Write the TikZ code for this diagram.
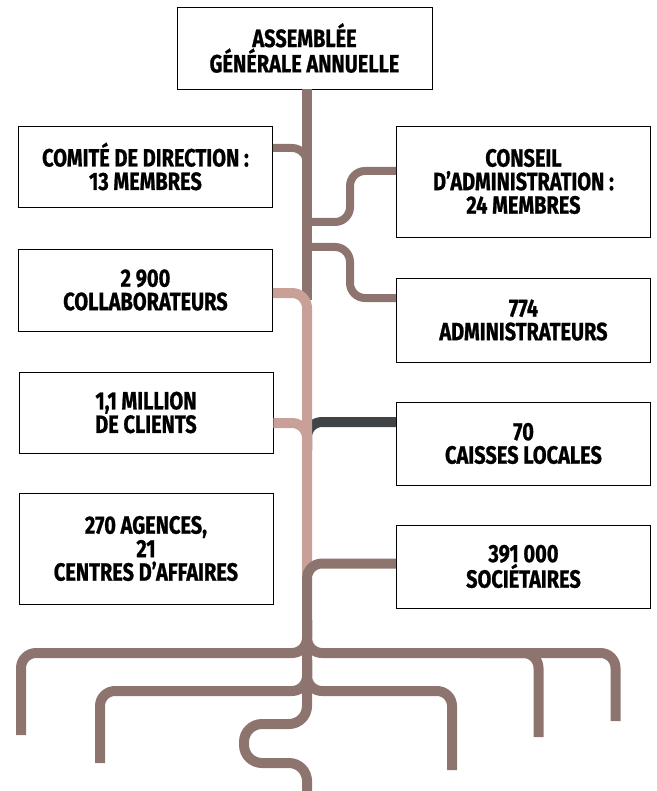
\documentclass[tikz,border=0pt]{standalone}
\usepackage{fontspec}
\newfontfamily\labfont{Fira Sans}[FakeStretch=0.8, BoldFeatures={FakeBold=0.8}]
\definecolor{brn}{HTML}{8E746E}
\definecolor{pnk}{HTML}{C8A098}
\definecolor{drk}{HTML}{404447}
\tikzset{
  box/.style={draw=black, line width=0.9pt, fill=white, align=center,
    font=\labfont\bfseries\fontsize{25}{23.5}\selectfont, inner sep=0pt,
    minimum width=254pt},
  lnk/.style={line width=10pt, draw=brn, rounded corners=15pt},
  thin/.style={line width=8pt},
}
\begin{document}
\begin{tikzpicture}[x=1pt,y=-1pt]
\useasboundingbox (0,0) rectangle (656,791);
% boxes
\node[box, minimum width=255pt, minimum height=82pt] (top) at (304.5,48) {ASSEMBLÉE\\GÉNÉRALE ANNUELLE};
\node[box, minimum height=81pt] (comite) at (145.5,166.5) {COMITÉ DE DIRECTION :\\13 MEMBRES};
\node[box, minimum height=82pt] (collab) at (145.5,290) {2 900\\COLLABORATEURS};
\node[box, minimum height=81pt] (clients) at (146,412.5) {1,1 MILLION\\DE CLIENTS};
\node[box, minimum height=111pt] (agences) at (146,548.5) {270 AGENCES,\\21\\CENTRES D’AFFAIRES};
\node[box, minimum height=111pt] (conseil) at (523.5,181.5) {CONSEIL\\D’ADMINISTRATION :\\24 MEMBRES};
\node[box, minimum height=84pt] (admin) at (523.5,320) {774\\ADMINISTRATEURS};
\node[box, minimum height=83pt] (caisses) at (523.5,443.5) {70\\CAISSES LOCALES};
\node[box, minimum height=83pt] (societ) at (523.5,566.5) {391 000\\SOCIÉTAIRES};
% trunk top (brown)
\draw[lnk] (top.south -| 307,0) -- (307,300);
\draw[lnk, thin] (comite.east |- 0,148) -- (307,148) -- (307,185);
\draw[lnk, thin] (conseil.west |- 0,171) -- (350,171) -- (350,222) -- (307,222);
\draw[lnk, thin] (307,247) -- (350,247) -- (350,298) -- (admin.west |- 0,298);
% dark branch
\draw[lnk, draw=drk] (caisses.west |- 0,422) -- (307,422) -- (307,450);
% pink
\draw[lnk, draw=pnk] (collab.east |- 0,293) -- (307,293) -- (307,575);
\draw[lnk, draw=pnk] (clients.east |- 0,423) -- (307,423) -- (307,450);
% brown lower
\draw[lnk] (societ.west |- 0,563.5) -- (307,563.5) -- (307,680);
% bottom tree
\draw[lnk] (307,620) -- (307,653) -- (21,653) -- (21,735);
\draw[lnk] (307,620) -- (307,653) -- (615.5,653) -- (615.5,721);
\draw[lnk] (480,653) -- (538.5,653) -- (538.5,737);
\draw[lnk] (307,660) -- (307,691) -- (100,691) -- (100,763);
\draw[lnk] (307,660) -- (307,691) -- (452,691) -- (452,770);
\draw[lnk, rounded corners=18pt] (307,680) -- (307,724) -- (244,724) -- (244,763) -- (307,763) -- (307,791);
\end{tikzpicture}
\end{document}
